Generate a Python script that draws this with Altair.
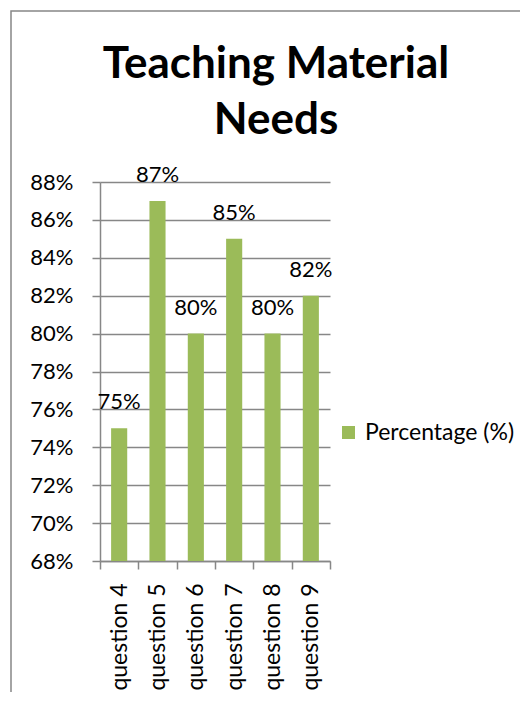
import altair as alt
import pandas as pd

questions = ["question 4", "question 5", "question 6", "question 7", "question 8", "question 9"]
percentages = [0.75, 0.87, 0.80, 0.85, 0.80, 0.82]
series_name = "Percentage (%)"
y_ticks = [0.68, 0.70, 0.72, 0.74, 0.76, 0.78, 0.80, 0.82, 0.84, 0.86, 0.88]

df = pd.DataFrame({"question": questions, "pct": percentages, "series": [series_name] * len(questions)})

GREEN = "#9BBB59"
GRAY = "#878787"
FONT = "Lato"
FS = 22

x = alt.X(
    "question:N", sort=questions, title=None,
    scale=alt.Scale(paddingInner=0, paddingOuter=0),
    axis=alt.Axis(labelAngle=270, tickBand="extent", domainColor=GRAY, tickColor=GRAY,
                  tickSize=8, tickWidth=1.5, domainWidth=1.5, labelFontSize=23, labelPadding=14,
                  labelColor="black", grid=False, labelFont=FONT),
)
y = alt.Y(
    "pct:Q", title=None,
    scale=alt.Scale(domain=[0.68, 0.88], nice=False, zero=False),
    axis=alt.Axis(values=y_ticks, format=".0%", domainColor=GRAY, tickColor=GRAY,
                  tickSize=8, tickWidth=1.5, domainWidth=1.5, gridColor=GRAY, gridWidth=1.5,
                  labelFontSize=FS, labelPadding=19, labelColor="black", labelFont=FONT),
)

base = alt.Chart(df)

bars = base.mark_bar(width=alt.RelativeBandSize(0.42)).encode(
    x=x, y=y, y2=alt.datum(0.68),
    color=alt.Color("series:N", scale=alt.Scale(range=[GREEN]),
                    legend=alt.Legend(title=None, orient="none", legendX=237, legendY=239,
                                      symbolType="square", symbolSize=169, symbolStrokeWidth=0,
                                      labelFontSize=23, labelFont=FONT, labelColor="black",
                                      labelOffset=5)),
)

labels = base.mark_text(dy=-26, baseline="middle", fontSize=FS, font=FONT, color="black").encode(
    x=x, y=y, text=alt.Text("pct:Q", format=".0%")
)

border = alt.Chart(pd.DataFrame({"b": [0]})).mark_rect(
    fillOpacity=0, stroke=GRAY, strokeWidth=1.5
).encode(x=alt.value(-89), x2=alt.value(700), y=alt.value(-171), y2=alt.value(800))

chart = alt.layer(border, bars, labels).properties(
    width=230, height=379,
    title=alt.TitleParams(["Teaching Material", "Needs"], fontSize=44, fontWeight="bold",
                          font=FONT, anchor="middle", dx=61, dy=133, lineHeight=56, color="black",
                          offset=0),
    autosize=alt.AutoSizeParams(type="none"),
    padding={"left": 92, "top": 174, "right": 190, "bottom": 131},
).configure_view(stroke="transparent")

chart.save("out.html", embed_options={"renderer": "svg", "actions": False})
